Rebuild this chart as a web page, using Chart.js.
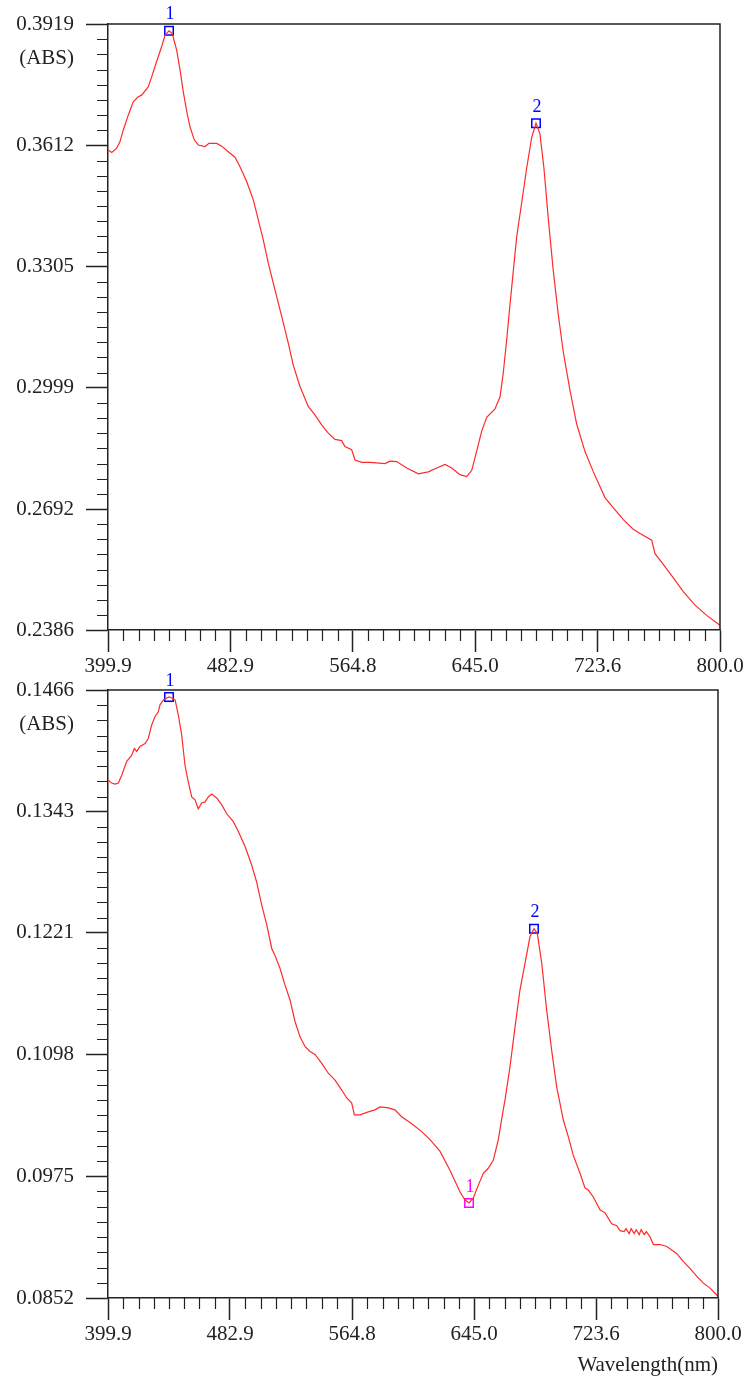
<!DOCTYPE html>
<html>
<head>
<meta charset="utf-8">
<script src="https://cdn.jsdelivr.net/npm/chart.js@4.4.1/dist/chart.umd.min.js"></script>
<style>
  body { margin: 0; background: #fff; }
  #wrap { position: relative; width: 744px; height: 1382px; }
  canvas { position: absolute; left: 0; }
  #espectro1 { top: 0; }
  #espectro2 { top: 650px; }
</style>
</head>
<body>
<div id="wrap">
  <canvas id="espectro1" width="744" height="680"></canvas>
  <canvas id="espectro2" width="744" height="732"></canvas>
</div>
<script>
// Etiquetas de los ejes
const xLabels = ['399.9', '482.9', '564.8', '645.0', '723.6', '800.0'];
const yLabels1 = ['0.2386', '0.2692', '0.2999', '0.3305', '0.3612', '0.3919'];
const yLabels2 = ['0.0852', '0.0975', '0.1098', '0.1221', '0.1343', '0.1466'];

// Espectro 1 (nm, ABS)
const wl1 = [400.1, 402.3, 405.6, 407.7, 409.9, 413.2, 416.4, 419.7, 421.9, 424.1,
  426.2, 428.5, 431.7, 435.0, 437.2, 439.8, 441.9, 444.8, 447.0, 449.1,
  451.4, 453.5, 456.3, 458.9, 463.3, 465.9, 471.0, 474.2, 478.5, 482.9,
  486.2, 490.6, 494.9, 498.2, 501.4, 504.7, 509.1, 513.5, 517.8, 521.0,
  525.4, 530.9, 535.2, 539.6, 543.9, 548.3, 552.7, 554.8, 559.2, 561.4,
  565.8, 571.2, 581.0, 584.3, 588.6, 595.2, 602.8, 609.3, 614.8, 620.2,
  624.6, 630.0, 634.4, 637.7, 640.9, 644.2, 647.5, 652.9, 656.2, 658.3,
  660.6, 662.7, 664.9, 667.1, 670.4, 673.6, 676.9, 679.7, 682.3, 684.9,
  687.8, 691.0, 694.3, 697.6, 701.9, 706.3, 711.7, 717.2, 724.8, 730.3,
  736.8, 743.3, 747.7, 755.4, 757.5, 762.9, 769.5, 776.0, 783.7, 791.3,
  798.9, 800.0];
const abs1 = [0.3600, 0.3594, 0.3605, 0.3621, 0.3651, 0.3689, 0.3722, 0.3735, 0.3739, 0.3750,
  0.3760, 0.3786, 0.3824, 0.3862, 0.3891, 0.3902, 0.3895, 0.3853, 0.3803, 0.3748,
  0.3697, 0.3659, 0.3626, 0.3613, 0.3609, 0.3617, 0.3617, 0.3610, 0.3596, 0.3582,
  0.3558, 0.3520, 0.3474, 0.3423, 0.3373, 0.3314, 0.3246, 0.3179, 0.3111, 0.3056,
  0.3002, 0.2951, 0.2930, 0.2905, 0.2884, 0.2868, 0.2865, 0.2850, 0.2842, 0.2816,
  0.2810, 0.2810, 0.2807, 0.2813, 0.2812, 0.2796, 0.2781, 0.2786, 0.2796, 0.2805,
  0.2796, 0.2779, 0.2774, 0.2790, 0.2838, 0.2889, 0.2924, 0.2945, 0.2976, 0.3036,
  0.3122, 0.3209, 0.3295, 0.3381, 0.3468, 0.3554, 0.3632, 0.3668, 0.3641, 0.3554,
  0.3424, 0.3295, 0.3183, 0.3088, 0.2993, 0.2907, 0.2838, 0.2786, 0.2721, 0.2695,
  0.2665, 0.2641, 0.2630, 0.2613, 0.2579, 0.2552, 0.2518, 0.2483, 0.2449, 0.2423,
  0.2401, 0.2398];

// Picos marcados en el espectro 1
const peakWl1 = [439.8, 679.7];
const peakAbs1 = [0.3902, 0.3668];

// Espectro 2 (nm, ABS)
const wl2 = [400.1, 402.3, 404.5, 406.7, 408.9, 412.2, 415.4, 417.2, 418.7, 420.9,
  424.2, 426.3, 428.6, 430.7, 432.9, 434.0, 436.2, 438.4, 439.9, 441.7,
  443.9, 446.0, 448.2, 450.4, 452.6, 454.8, 457.0, 459.1, 461.4, 463.5,
  465.7, 467.9, 471.2, 474.5, 477.8, 482.1, 485.4, 489.8, 494.2, 497.4,
  500.7, 504.0, 507.3, 509.4, 512.7, 516.0, 519.3, 522.6, 525.8, 529.1,
  532.4, 535.7, 540.1, 544.4, 548.8, 553.2, 556.5, 559.7, 561.5, 565.2,
  570.6, 575.0, 578.3, 583.8, 588.1, 592.5, 599.1, 605.7, 611.1, 617.7,
  624.2, 630.8, 634.1, 636.7, 639.5, 642.8, 646.1, 649.3, 652.6, 655.9,
  658.8, 660.3, 663.6, 666.9, 670.1, 673.4, 676.7, 679.3, 681.5, 684.4,
  687.6, 690.9, 694.2, 695.9, 698.5, 701.8, 705.1, 709.5, 712.8, 714.9,
  718.2, 722.6, 725.9, 730.3, 733.6, 735.7, 738.4, 739.7, 741.7, 743.0,
  745.0, 746.3, 748.3, 749.6, 751.6, 753.0, 755.3, 757.6, 762.0, 766.4,
  772.9, 777.2, 781.6, 786.0, 790.4, 794.8, 799.2, 800.0];
const abs2 = [0.1375, 0.1372, 0.1371, 0.1372, 0.1380, 0.1394, 0.1400, 0.1407, 0.1404, 0.1409,
  0.1412, 0.1417, 0.1431, 0.1439, 0.1444, 0.1451, 0.1456, 0.1458, 0.1459, 0.1458,
  0.1456, 0.1441, 0.1421, 0.1390, 0.1373, 0.1358, 0.1355, 0.1346, 0.1352, 0.1353,
  0.1358, 0.1361, 0.1357, 0.1350, 0.1341, 0.1333, 0.1323, 0.1308, 0.1289, 0.1272,
  0.1249, 0.1229, 0.1205, 0.1198, 0.1185, 0.1168, 0.1153, 0.1131, 0.1116, 0.1106,
  0.1101, 0.1098, 0.1089, 0.1079, 0.1072, 0.1062, 0.1054, 0.1049, 0.1037, 0.1037,
  0.1040, 0.1042, 0.1045, 0.1044, 0.1042, 0.1035, 0.1028, 0.1020, 0.1012, 0.1000,
  0.0981, 0.0959, 0.0951, 0.0948, 0.0953, 0.0966, 0.0978, 0.0983, 0.0991, 0.1012,
  0.1039, 0.1052, 0.1086, 0.1126, 0.1163, 0.1190, 0.1217, 0.1225, 0.1220, 0.1190,
  0.1143, 0.1102, 0.1065, 0.1052, 0.1032, 0.1015, 0.0996, 0.0978, 0.0963, 0.0961,
  0.0954, 0.0941, 0.0938, 0.0927, 0.0925, 0.0920, 0.0919, 0.0922, 0.0917, 0.0922,
  0.0917, 0.0921, 0.0916, 0.0921, 0.0916, 0.0919, 0.0914, 0.0906, 0.0906, 0.0904,
  0.0897, 0.0889, 0.0882, 0.0874, 0.0867, 0.0862, 0.0855, 0.0854];

// Picos y valle marcados en el espectro 2
const peakWl2 = [439.9, 679.3];
const peakAbs2 = [0.1459, 0.1225];
const valleyWl2 = [636.7];
const valleyAbs2 = [0.0948];

const FONT = "'Liberation Serif', 'Times New Roman', serif";
const INK = '#222';

// Marco superior/derecho, marcas menores, "(ABS)" y numeros de los picos
const marcoPlugin = {
  id: 'marco',
  afterDraw(chart) {
    const ctx = chart.ctx;
    const a = chart.chartArea;
    const sx = chart.scales.x;
    const sy = chart.scales.y;
    ctx.save();
    ctx.strokeStyle = INK;
    ctx.lineWidth = 1.5;
    ctx.beginPath();
    ctx.moveTo(a.left, a.top);
    ctx.lineTo(a.right, a.top);
    ctx.lineTo(a.right, a.bottom);
    ctx.stroke();

    // 7 marcas menores entre cada par de marcas principales
    ctx.lineWidth = 1.2;
    ctx.beginPath();
    const xs = sx.ticks.map(t => sx.getPixelForValue(t.value));
    for (let i = 0; i < xs.length - 1; i++) {
      for (let k = 1; k < 8; k++) {
        const px = Math.round(xs[i] + (xs[i + 1] - xs[i]) * k / 8) + 0.5;
        ctx.moveTo(px, a.bottom);
        ctx.lineTo(px, a.bottom + 11);
      }
    }
    const ys = sy.ticks.map(t => sy.getPixelForValue(t.value));
    for (let i = 0; i < ys.length - 1; i++) {
      for (let k = 1; k < 8; k++) {
        const py = Math.round(ys[i] + (ys[i + 1] - ys[i]) * k / 8) + 0.5;
        ctx.moveTo(a.left, py);
        ctx.lineTo(a.left - 11, py);
      }
    }
    ctx.stroke();

    ctx.fillStyle = INK;
    ctx.font = '21px ' + FONT;
    ctx.textAlign = 'right';
    ctx.textBaseline = 'middle';
    ctx.fillText('(ABS)', a.left - 34, a.top + 34);

    chart.data.datasets.forEach((ds, i) => {
      if (!ds.etiquetas) return;
      const meta = chart.getDatasetMeta(i);
      ctx.fillStyle = ds.borderColor;
      ctx.font = '18px ' + FONT;
      ctx.textAlign = 'center';
      meta.data.forEach((p, j) => ctx.fillText(ds.etiquetas[j], p.x + 1, p.y - 16));
    });
    ctx.restore();
  }
};

function puntos(xs, ys) {
  return xs.map((x, i) => ({ x: x, y: ys[i] }));
}

function marcador(xs, ys, color, etiquetas) {
  return {
    type: 'scatter',
    data: puntos(xs, ys),
    pointStyle: 'rect',
    pointRadius: 6,
    borderColor: color,
    backgroundColor: 'rgba(0,0,0,0)',
    borderWidth: 1.5,
    clip: false,
    etiquetas: etiquetas
  };
}

function escalas(yLabels, alturaX, titulo) {
  const fuente = { family: FONT, size: 21 };
  return {
    x: {
      type: 'linear',
      min: Number(xLabels[0]),
      max: Number(xLabels[xLabels.length - 1]),
      afterBuildTicks: s => {
        s.ticks = xLabels.map((_, i) => ({ value: s.min + (s.max - s.min) * i / (xLabels.length - 1) }));
      },
      afterFit: s => { s.height = alturaX; s.paddingLeft = 0; s.paddingRight = 0; },
      grid: { drawOnChartArea: false, drawTicks: true, tickLength: 22, tickColor: INK, tickWidth: 1.5 },
      border: { color: INK, width: 1.5 },
      ticks: {
        autoSkip: false, maxRotation: 0, padding: 2, color: INK, font: fuente,
        callback: (v, i) => xLabels[i]
      },
      title: {
        display: !!titulo, text: titulo || '', align: 'end', color: INK,
        font: fuente, padding: { top: 0, bottom: 4 }
      }
    },
    y: {
      type: 'linear',
      min: Number(yLabels[0]),
      max: Number(yLabels[yLabels.length - 1]),
      afterBuildTicks: s => { s.ticks = yLabels.map(v => ({ value: Number(v) })); },
      afterFit: s => { s.width = 108; s.paddingTop = 0; s.paddingBottom = 0; },
      grid: { drawOnChartArea: false, drawTicks: true, tickLength: 22, tickColor: INK, tickWidth: 1.5 },
      border: { color: INK, width: 1.5 },
      ticks: { padding: 12, color: INK, font: fuente, callback: (v, i) => yLabels[i] }
    }
  };
}

function crearEspectro(id, datasets, yLabels, alturaX, padding, titulo) {
  return new Chart(document.getElementById(id), {
    type: 'line',
    data: { datasets: datasets },
    options: {
      responsive: false,
      animation: false,
      events: [],
      layout: { padding: padding },
      plugins: { legend: { display: false }, tooltip: { enabled: false } },
      scales: escalas(yLabels, alturaX, titulo)
    },
    plugins: [marcoPlugin]
  });
}

const curva = (xs, ys) => ({
  type: 'line',
  data: puntos(xs, ys),
  borderColor: '#ff2a2a',
  borderWidth: 1.2,
  pointRadius: 0,
  tension: 0,
  fill: false
});

crearEspectro('espectro1', [
  curva(wl1, abs1),
  marcador(peakWl1, peakAbs1, '#0000ff', ['1', '2'])
], yLabels1, 50, { top: 24, right: 24, bottom: 0, left: 0 });

crearEspectro('espectro2', [
  curva(wl2, abs2),
  marcador(peakWl2, peakAbs2, '#0000ff', ['1', '2']),
  marcador(valleyWl2, valleyAbs2, '#ff00ff', ['1'])
], yLabels2, 84, { top: 40, right: 26, bottom: 0, left: 0 }, 'Wavelength(nm)');
</script>
</body>
</html>
